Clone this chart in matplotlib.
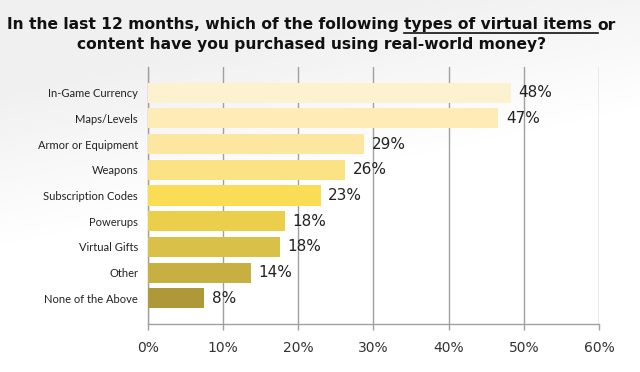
import numpy as np
import matplotlib
matplotlib.use("Agg")
import matplotlib.pyplot as plt

categories = ["In-Game Currency", "Maps/Levels", "Armor or Equipment", "Weapons",
              "Subscription Codes", "Powerups", "Virtual Gifts", "Other", "None of the Above"]
values = [48.3, 46.6, 28.8, 26.2, 23.0, 18.2, 17.6, 13.7, 7.5]
labels = ["48%", "47%", "29%", "26%", "23%", "18%", "18%", "14%", "8%"]
bar_colors = ["#fdf2cf", "#fdecb6", "#fce6a0", "#fbe283", "#fadd55",
              "#ebcf4b", "#d9c048", "#c8af41", "#ae9838"]
xticks = [0, 10, 20, 30, 40, 50, 60]

fig = plt.figure(figsize=(6.4, 3.72), dpi=100)
fig.patch.set_facecolor("white")

# soft gray backdrop fading to white towards the lower right
bg = fig.add_axes([0, 0, 1, 1], zorder=-5)
yy, xx = np.mgrid[0:1:200j, 0:1:300j]
t = np.clip((yy * 1.6 + xx * 0.6 - 0.4) / 0.7, 0, 1)
shade = 0.94 + 0.06 * t
bg.imshow(shade, cmap="gray", vmin=0, vmax=1, aspect="auto", extent=[0, 1, 0, 1], origin="upper")
bg.axis("off")

ax = fig.add_axes([0.231, 0.129, 0.705, 0.691])
ax.patch.set_alpha(0)
y = np.arange(len(categories))
ax.barh(y, values, height=0.78, color=bar_colors, zorder=3)
for yi, v, lab in zip(y, values, labels):
    ax.text(v + 1.0, yi, lab, va="center", ha="left", fontsize=11, color="#222222",
            family="DejaVu Sans", zorder=4)

ax.set_xlim(0, 60)
ax.set_ylim(len(categories), -1)
ax.set_xticks(xticks)
ax.set_xticklabels([f"{t}%" for t in xticks], fontsize=10, color="#333333")
ax.set_yticks(y)
ax.set_yticklabels(categories, fontsize=8, color="#222222", family="Lato")
ax.tick_params(axis="y", length=0, pad=7)
ax.tick_params(axis="x", length=4, width=1, color="#a0a0a0", direction="out", pad=8)
ax.xaxis.grid(True, color="#a0a0a0", linewidth=1, zorder=0)
ax.set_axisbelow(True)
for s in ["top", "right"]:
    ax.spines[s].set_visible(False)
for s in ["left", "bottom"]:
    ax.spines[s].set_color("#a0a0a0")
    ax.spines[s].set_linewidth(1)

# title with underlined phrase
tsize = 11.2
parts = ["In the last 12 months, which of the following ", "types of virtual items ", "or"]
fig.canvas.draw()
r = fig.canvas.get_renderer()
widths = []
for p in parts:
    tmp = fig.text(0, 0, p, fontsize=tsize, fontweight="bold")
    widths.append(tmp.get_window_extent(r).width)
    tmp.remove()
W = fig.get_figwidth() * fig.dpi
H = fig.get_figheight() * fig.dpi
x0 = 7
ty = 1 - 25 / H
xc = x0
for p, w in zip(parts, widths):
    fig.text(xc / W, ty, p, fontsize=tsize, fontweight="bold", color="#111111", va="center")
    xc += w
ux0 = (x0 + widths[0]) / W
ux1 = (x0 + widths[0] + widths[1]) / W
fig.add_artist(plt.Line2D([ux0, ux1], [ty - 8 / H, ty - 8 / H], color="#111111", linewidth=1.2))
fig.text(312 / W, 1 - 45 / H, "content have you purchased using real-world money?", fontsize=tsize,
         fontweight="bold", color="#111111", ha="center", va="center")

fig.savefig("out.png", dpi=100)
